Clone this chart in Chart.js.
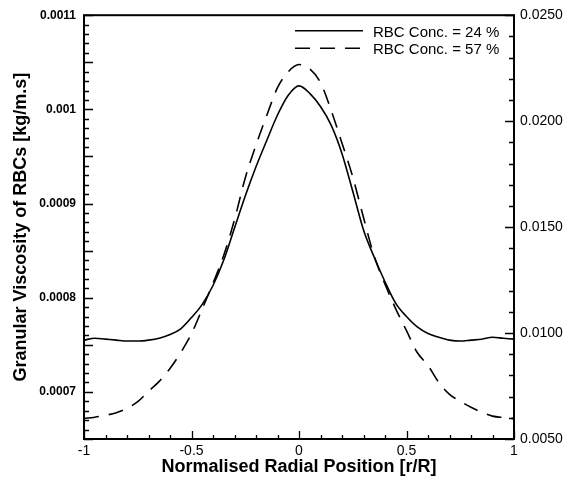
<!DOCTYPE html>
<html>
<head>
<meta charset="utf-8">
<script src="https://cdn.jsdelivr.net/npm/chart.js@4/dist/chart.umd.min.js"></script>
<style>
  html, body { margin: 0; padding: 0; background: #fff; }
  #wrap { width: 577px; height: 479px; }
</style>
</head>
<body>
<div id="wrap"><canvas id="chart" width="577" height="479"></canvas></div>
<script>
// ── Data ──
const radialPos = [
  -1, -0.95, -0.9, -0.85, -0.8, -0.75, -0.7, -0.65, -0.6, -0.55,
  -0.5, -0.45, -0.4, -0.35, -0.3, -0.25, -0.2, -0.15, -0.1, -0.05,
  0, 0.05, 0.1, 0.15, 0.2, 0.25, 0.3, 0.35, 0.4, 0.45,
  0.5, 0.55, 0.6, 0.65, 0.7, 0.75, 0.8, 0.85, 0.9, 0.95, 1
];

// RBC Conc. = 24 % (left axis, kg/m.s)
const visc24 = [
  0.000755, 0.000757, 0.000756, 0.000755, 0.000754, 0.000754, 0.000755, 0.000757, 0.000761, 0.000767,
  0.000779, 0.000793, 0.000813, 0.000840, 0.000874, 0.000908, 0.000939, 0.000967, 0.000994, 0.001015,
  0.001025, 0.001017, 0.001003, 0.000983, 0.000953, 0.000913, 0.000872, 0.000843, 0.000817, 0.000794,
  0.000780, 0.000769, 0.000762, 0.000758, 0.000755, 0.000754, 0.000755, 0.000756, 0.000758, 0.000757, 0.000756
];

// RBC Conc. = 57 % (right axis)
const visc57 = [
  0.00597, 0.00603, 0.00612, 0.00624, 0.00645, 0.00676, 0.00725, 0.00772, 0.00833, 0.00908,
  0.00997, 0.01114, 0.01235, 0.01367, 0.01535, 0.01732, 0.01887, 0.02027, 0.02158, 0.02233,
  0.02267, 0.02247, 0.02182, 0.02050, 0.01896, 0.01737, 0.01545, 0.01362, 0.01231, 0.01114,
  0.01011, 0.00908, 0.00847, 0.00767, 0.00711, 0.00678, 0.00650, 0.00626, 0.00608, 0.00601, 0.00596
];

const seriesLabels = ['RBC Conc. = 24 %', 'RBC Conc. = 57 %'];

const xTicks = [-1, -0.5, 0, 0.5, 1];
const xTickLabels = ['-1', '-0.5', '0', '0.5', '1'];
const leftTicks = [0.0007, 0.0008, 0.0009, 0.001, 0.0011];
const leftTickLabels = ['0.0007', '0.0008', '0.0009', '0.001', '0.0011'];
const rightTicks = [0.005, 0.01, 0.015, 0.02, 0.025];
const rightTickLabels = ['0.0050', '0.0100', '0.0150', '0.0200', '0.0250'];

const FONT = "'Liberation Sans', Arial, Helvetica, sans-serif";

// ── Inward tick marks (major + minor) ──
function tickRun(from, to, step) {
  const out = [];
  const n = Math.round((to - from) / step);
  for (let i = 0; i <= n; i++) out.push(from + i * step);
  return out;
}

const axisTicks = {
  id: 'axisTicks',
  afterDatasetsDraw(chart) {
    const { ctx, chartArea: a, scales } = chart;
    ctx.save();
    ctx.strokeStyle = '#000';
    ctx.lineWidth = 1.3;
    ctx.beginPath();

    // left axis
    tickRun(0.00065, 0.0011, 0.00001).forEach((v, i) => {
      const y = Math.round(scales.y.getPixelForValue(v)) + 0.5;
      const len = (i % 5 === 0) ? 9 : 5;
      ctx.moveTo(a.left, y); ctx.lineTo(a.left + len, y);
    });
    // right axis
    tickRun(0.005, 0.025, 0.001).forEach((v, i) => {
      const y = Math.round(scales.y2.getPixelForValue(v)) + 0.5;
      const len = (i % 5 === 0) ? 9 : 5;
      ctx.moveTo(a.right, y); ctx.lineTo(a.right - len, y);
    });
    // bottom axis
    tickRun(-1, 1, 0.1).forEach((v, i) => {
      const x = Math.round(scales.x.getPixelForValue(v)) + 0.5;
      const len = (i % 5 === 0) ? 8 : 4;
      ctx.moveTo(x, a.bottom); ctx.lineTo(x, a.bottom - len);
    });
    ctx.stroke();

    // frame
    ctx.lineWidth = 2;
    ctx.strokeRect(a.left, a.top, a.right - a.left, a.bottom - a.top);
    ctx.restore();
  }
};

// ── Legend in the upper right of the plot ──
const insideLegend = {
  id: 'insideLegend',
  afterDraw(chart) {
    const { ctx, chartArea: a } = chart;
    ctx.save();
    ctx.font = '15px ' + FONT;
    ctx.fillStyle = '#000';
    ctx.textBaseline = 'middle';
    chart.data.datasets.forEach((ds, i) => {
      const y = a.top + 15.5 + i * 17.5;
      ctx.strokeStyle = ds.borderColor;
      ctx.lineWidth = ds.borderWidth;
      ctx.setLineDash(ds.borderDash || []);
      ctx.beginPath();
      ctx.moveTo(a.right - 219, y);
      ctx.lineTo(a.right - 151, y);
      ctx.stroke();
      ctx.setLineDash([]);
      ctx.fillText(ds.label, a.right - 141, y + 2);
    });
    ctx.restore();
  }
};

new Chart(document.getElementById('chart'), {
  type: 'line',
  data: {
    datasets: [
      {
        label: seriesLabels[0],
        data: radialPos.map((x, i) => ({ x, y: visc24[i] })),
        yAxisID: 'y',
        borderColor: '#000',
        borderWidth: 1.6,
        pointRadius: 0,
        cubicInterpolationMode: 'monotone',
        fill: false
      },
      {
        label: seriesLabels[1],
        data: radialPos.map((x, i) => ({ x, y: visc57[i] })),
        yAxisID: 'y2',
        borderColor: '#000',
        borderWidth: 1.6,
        borderDash: [15, 10],
        pointRadius: 0,
        cubicInterpolationMode: 'monotone',
        fill: false
      }
    ]
  },
  options: {
    responsive: false,
    animation: false,
    layout: { padding: { top: 12, left: 0, right: 0, bottom: 0 } },
    plugins: { legend: { display: false }, tooltip: { enabled: false } },
    scales: {
      x: {
        type: 'linear', position: 'bottom', min: -1, max: 1,
        grid: { display: false, drawTicks: false },
        border: { display: false },
        afterBuildTicks: s => { s.ticks = xTicks.map(v => ({ value: v })); },
        afterFit: s => { s.height = 40; },
        ticks: {
          autoSkip: false, maxRotation: 0, padding: 4, color: '#000',
          font: { family: FONT, size: 14 },
          callback: (v, i) => xTickLabels[i]
        },
        title: {
          display: true, text: 'Normalised Radial Position [r/R]', color: '#000',
          font: { family: FONT, size: 18, weight: 'bold' },
          padding: { top: 0, bottom: 1.5 }
        }
      },
      y: {
        type: 'linear', position: 'left', min: 0.00065, max: 0.0011,
        grid: { display: false, drawTicks: false },
        border: { display: false },
        afterBuildTicks: s => { s.ticks = leftTicks.map(v => ({ value: v })); },
        afterFit: s => { s.width = 84; },
        ticks: {
          autoSkip: false, padding: 8, color: '#000',
          font: { family: FONT, size: 12, weight: 'bold' },
          callback: (v, i) => leftTickLabels[i]
        },
        title: {
          display: true, text: 'Granular Viscosity of RBCs [kg/m.s]', color: '#000',
          font: { family: FONT, size: 18, weight: 'bold' },
          padding: { top: 10, bottom: 0 }
        }
      },
      y2: {
        type: 'linear', position: 'right', min: 0.005, max: 0.025,
        grid: { display: false, drawTicks: false },
        border: { display: false },
        afterBuildTicks: s => { s.ticks = rightTicks.map(v => ({ value: v })); },
        afterFit: s => { s.width = 63; },
        ticks: {
          autoSkip: false, padding: 6, color: '#000',
          font: { family: FONT, size: 14 },
          callback: (v, i) => rightTickLabels[i]
        }
      }
    }
  },
  plugins: [axisTicks, insideLegend]
});
</script>
</body>
</html>
